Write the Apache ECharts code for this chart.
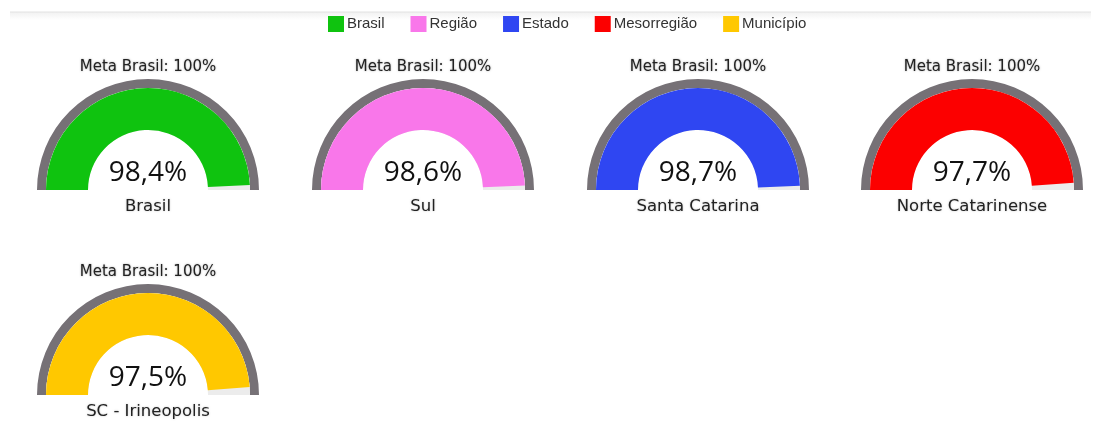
<!DOCTYPE html>
<html>
<head>
<meta charset="utf-8">
<script src="https://cdn.jsdelivr.net/npm/echarts@6/dist/echarts.min.js"></script>
<style>
html,body{margin:0;padding:0;background:#fff;}
#chart{width:1101px;height:423px;}
</style>
</head>
<body>
<div id="chart"></div>
<script>
// Data
var legendNames = ['Brasil', 'Região', 'Estado', 'Mesorregião', 'Município'];
var gaugeLabels = ['Brasil', 'Sul', 'Santa Catarina', 'Norte Catarinense', 'SC - Irineopolis'];
var gaugeValues = [98.4, 98.6, 98.7, 97.7, 97.5];
var metaValues = [100, 100, 100, 100, 100];
var metaLabel = 'Meta Brasil';
var colors = ['#0fc30f', '#f977ea', '#2f46f2', '#fc0000', '#ffc800'];

// Layout
var centers = [[148, 190], [423, 190], [698, 190], [972, 190], [148, 395]];
var outerR = 111, ringW = 9, innerR = 102, bandW = 42;
var LABEL_FONT = '"DejaVu Sans", Verdana, sans-serif';
var VALUE_FONT = '"Open Sans", "DejaVu Sans", sans-serif';

var chart = echarts.init(document.getElementById('chart'));
var series = [];
gaugeValues.forEach(function (v, i) {
  // target ring (grey)
  series.push({
    type: 'gauge',
    name: 'meta' + i,
    center: centers[i],
    radius: outerR,
    startAngle: 180,
    endAngle: 0,
    min: 0,
    max: metaValues[i],
    silent: true,
    pointer: { show: false },
    progress: { show: false },
    axisTick: { show: false },
    splitLine: { show: false },
    axisLabel: { show: false },
    anchor: { show: false },
    axisLine: { lineStyle: { width: ringW, color: [[1, '#767176']] } },
    title: {
      offsetCenter: [0, -123],
      fontFamily: LABEL_FONT,
      fontSize: 15,
      color: '#222',
      textShadowColor: 'rgba(0,0,0,0.35)',
      textShadowBlur: 2
    },
    detail: { show: false },
    data: [{ value: metaValues[i], name: metaLabel + ': ' + metaValues[i] + '%' }]
  });
  // value band
  series.push({
    type: 'gauge',
    name: legendNames[i],
    center: centers[i],
    radius: innerR,
    startAngle: 180,
    endAngle: 0,
    min: 0,
    max: 100,
    silent: true,
    itemStyle: { color: colors[i] },
    pointer: { show: false },
    progress: { show: true, width: bandW, itemStyle: { color: colors[i] } },
    axisTick: { show: false },
    splitLine: { show: false },
    axisLabel: { show: false },
    anchor: { show: false },
    axisLine: { lineStyle: { width: bandW, color: [[1, '#ececec']] } },
    title: {
      offsetCenter: [0, 17],
      fontFamily: LABEL_FONT,
      fontSize: 16.5,
      color: '#222',
      textShadowColor: 'rgba(0,0,0,0.25)',
      textShadowBlur: 2
    },
    detail: {
      offsetCenter: [0, -17],
      fontFamily: VALUE_FONT,
      fontSize: 28,
      fontWeight: 'normal',
      color: '#111',
      formatter: function (val) { return val.toFixed(1).replace('.', ',') + '%'; }
    },
    data: [{ value: v, name: gaugeLabels[i] }]
  });
});

chart.setOption({
  animation: false,
  graphic: [
    { type: 'rect', shape: { x: 10, y: 12, width: 1081, height: 8 },
      style: { fill: new echarts.graphic.LinearGradient(0, 0, 0, 1, [{ offset: 0, color: '#f1f1f1' }, { offset: 1, color: '#ffffff' }]) }, silent: true },
    { type: 'line', shape: { x1: 10, y1: 12, x2: 1091, y2: 12 }, style: { stroke: '#e2e2e2', lineWidth: 1 }, silent: true }
  ],
  legend: {
    left: 328,
    top: 16,
    padding: 0,
    icon: 'rect',
    itemWidth: 16,
    itemHeight: 16,
    itemGap: 26,
    selectedMode: false,
    textStyle: { fontFamily: '"Liberation Sans Narrow", "Liberation Sans", Arial, sans-serif', fontSize: 15, color: '#333', padding: [0, 0, 0, -2] },
    data: legendNames.map(function (n, i) { return { name: n, itemStyle: { color: colors[i] } }; })
  },
  series: series
});
</script>
</body>
</html>
